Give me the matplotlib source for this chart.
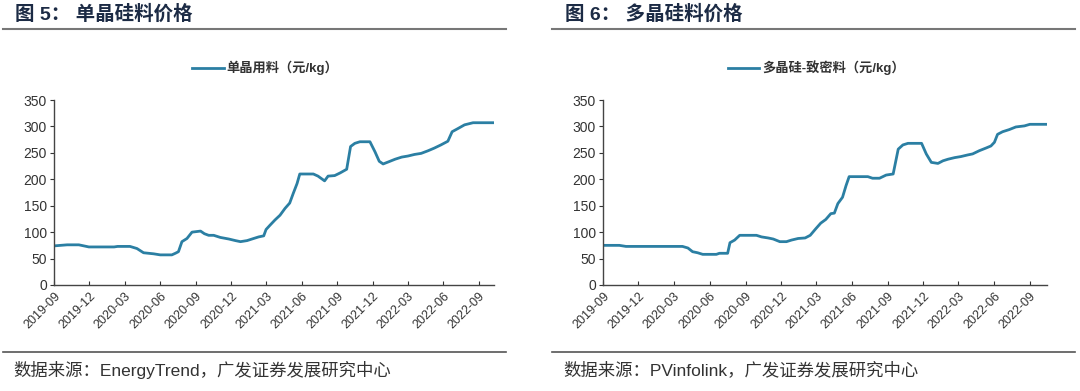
import matplotlib
matplotlib.use("Agg")
import matplotlib.pyplot as plt
import matplotlib.dates as mdates
from matplotlib.lines import Line2D
import pandas as pd

plt.rcParams['font.family'] = ['Liberation Sans', 'Noto Sans CJK SC']

# 图5: 单晶用料 (元/kg)
mono_dates = ["2019-09-01", "2019-10-05", "2019-11-04", "2019-11-30", "2020-02-03", "2020-02-12",
              "2020-03-15", "2020-04-02", "2020-04-19", "2020-05-15", "2020-06-01", "2020-07-01",
              "2020-07-10", "2020-07-18", "2020-07-27", "2020-08-09", "2020-08-22", "2020-09-13",
              "2020-09-23", "2020-10-04", "2020-10-17", "2020-11-03", "2020-11-25", "2020-12-12",
              "2020-12-25", "2021-01-11", "2021-01-28", "2021-02-10", "2021-02-23", "2021-03-01",
              "2021-03-11", "2021-03-24", "2021-04-06", "2021-04-19", "2021-05-01", "2021-05-10",
              "2021-05-20", "2021-05-27", "2021-07-01", "2021-07-13", "2021-07-30", "2021-08-08",
              "2021-08-25", "2021-09-08", "2021-09-25", "2021-10-05", "2021-10-16", "2021-10-29",
              "2021-11-24", "2021-12-07", "2021-12-18", "2021-12-28", "2022-01-11", "2022-01-28",
              "2022-02-14", "2022-03-02", "2022-03-19", "2022-04-05", "2022-04-23", "2022-05-09",
              "2022-05-26", "2022-06-13", "2022-06-24", "2022-07-09", "2022-07-26", "2022-08-17",
              "2022-10-10"]
mono_price = [74, 76, 76, 72, 72, 73,
              73, 69, 61, 59, 57, 57,
              60, 63, 82, 88, 100, 102,
              97, 94, 94, 90, 87, 84,
              82, 84, 88, 91, 93, 105,
              113, 123, 132, 145, 155, 173,
              192, 210, 210, 206, 197, 206,
              207, 212, 219, 262, 268, 271,
              271, 252, 234, 229, 233, 238,
              242, 244, 247, 249, 254, 259,
              265, 272, 290, 296, 303, 307,
              307]

# 图6: 多晶硅-致密料 (元/kg)
poly_dates = ["2019-09-01", "2019-10-13", "2019-10-30", "2020-03-23", "2020-04-06", "2020-04-18",
              "2020-05-01", "2020-05-14", "2020-06-18", "2020-06-26", "2020-07-17", "2020-07-23",
              "2020-08-04", "2020-08-17", "2020-09-29", "2020-10-12", "2020-10-29", "2020-11-11",
              "2020-11-28", "2020-12-15", "2020-12-28", "2021-01-14", "2021-02-01", "2021-02-14",
              "2021-03-01", "2021-03-13", "2021-03-26", "2021-04-08", "2021-04-17", "2021-04-26",
              "2021-05-08", "2021-05-17", "2021-05-25", "2021-07-12", "2021-07-24", "2021-08-11",
              "2021-08-28", "2021-09-15", "2021-09-28", "2021-10-10", "2021-10-23", "2021-11-27",
              "2021-12-09", "2021-12-22", "2022-01-08", "2022-01-21", "2022-02-03", "2022-02-20",
              "2022-03-08", "2022-03-25", "2022-04-07", "2022-04-24", "2022-05-11", "2022-05-24",
              "2022-06-02", "2022-06-10", "2022-06-23", "2022-07-10", "2022-07-27", "2022-08-18",
              "2022-09-01", "2022-10-15"]
poly_price = [75, 75, 73, 73, 70, 63,
              61, 58, 58, 60, 60, 80,
              85, 94, 94, 91, 89, 87,
              82, 82, 85, 88, 89, 94,
              107, 117, 124, 135, 136, 154,
              166, 188, 205, 205, 202, 202,
              208, 210, 257, 265, 268, 268,
              248, 232, 230, 235, 238, 241,
              243, 246, 248, 254, 259, 263,
              270, 285, 290, 294, 299, 301,
              304, 304]

titles = ["图 5： 单晶硅料价格", "图 6： 多晶硅料价格"]
legends = ["单晶用料（元/kg）", "多晶硅-致密料（元/kg）"]
sources = ["数据来源：EnergyTrend，广发证券发展研究中心", "数据来源：PVinfolink，广发证券发展研究中心"]

line_color = "#2b7fa3"
title_color = "#1c2b45"

fig = plt.figure(figsize=(10.8, 3.91), dpi=100)

panels = [
    (mono_dates, mono_price, [54, 494], [3, 506], 15),
    (poly_dates, poly_price, [603, 1047], [552, 1075], 565),
]

for i, (dates, price, ax_px, sep_px, title_x) in enumerate(panels):
    W, H = 1080, 391
    ax = fig.add_axes([ax_px[0] / W, 1 - 285 / H, (ax_px[1] - ax_px[0]) / W, 185 / H])
    d = pd.to_datetime(dates)
    ax.plot(d, price, color=line_color, lw=2)
    ax.set_xlim(d[0], d[-1])
    ax.set_ylim(0, 350)
    ax.set_yticks(range(0, 351, 50))
    ax.xaxis.set_major_locator(mdates.MonthLocator(bymonth=[3, 6, 9, 12]))
    ax.xaxis.set_major_formatter(mdates.DateFormatter('%Y-%m'))
    for lab in ax.get_xticklabels():
        lab.set_rotation(45)
        lab.set_ha('right')
        lab.set_rotation_mode('anchor')
    ax.tick_params(axis='x', direction='in', length=3, labelsize=9, colors='#333333', pad=4)
    ax.tick_params(axis='y', direction='out', length=3, labelsize=10, colors='#333333', pad=2)
    for s in ['top', 'right']:
        ax.spines[s].set_visible(False)
    for s in ['left', 'bottom']:
        ax.spines[s].set_color('#444444')
        ax.spines[s].set_linewidth(1)

    handle = Line2D([0], [0], color=line_color, lw=2)
    ax.legend([handle], [legends[i]], loc='lower center', bbox_to_anchor=(0.48, 1.07),
              frameon=False, prop={'size': 9.5, 'weight': 'bold'}, handlelength=2.4,
              handletextpad=0.2, labelcolor='#333333')

    # title, separator lines and source note
    fig.text(title_x / W, 1 - 14 / H, titles[i], fontsize=14, fontweight='bold',
             color=title_color, ha='left', va='center')
    fig.add_artist(Line2D([sep_px[0] / W, sep_px[1] / W], [1 - 29 / H, 1 - 29 / H],
                          color='#777777', lw=1.5))
    fig.add_artist(Line2D([sep_px[0] / W, sep_px[1] / W], [1 - 352 / H, 1 - 352 / H],
                          color='#555555', lw=1.2))
    fig.text((title_x - 2) / W, 1 - 370 / H, sources[i], fontsize=12.5,
             color='#333333', ha='left', va='center')

fig.savefig("out.png", dpi=100, facecolor='white')
